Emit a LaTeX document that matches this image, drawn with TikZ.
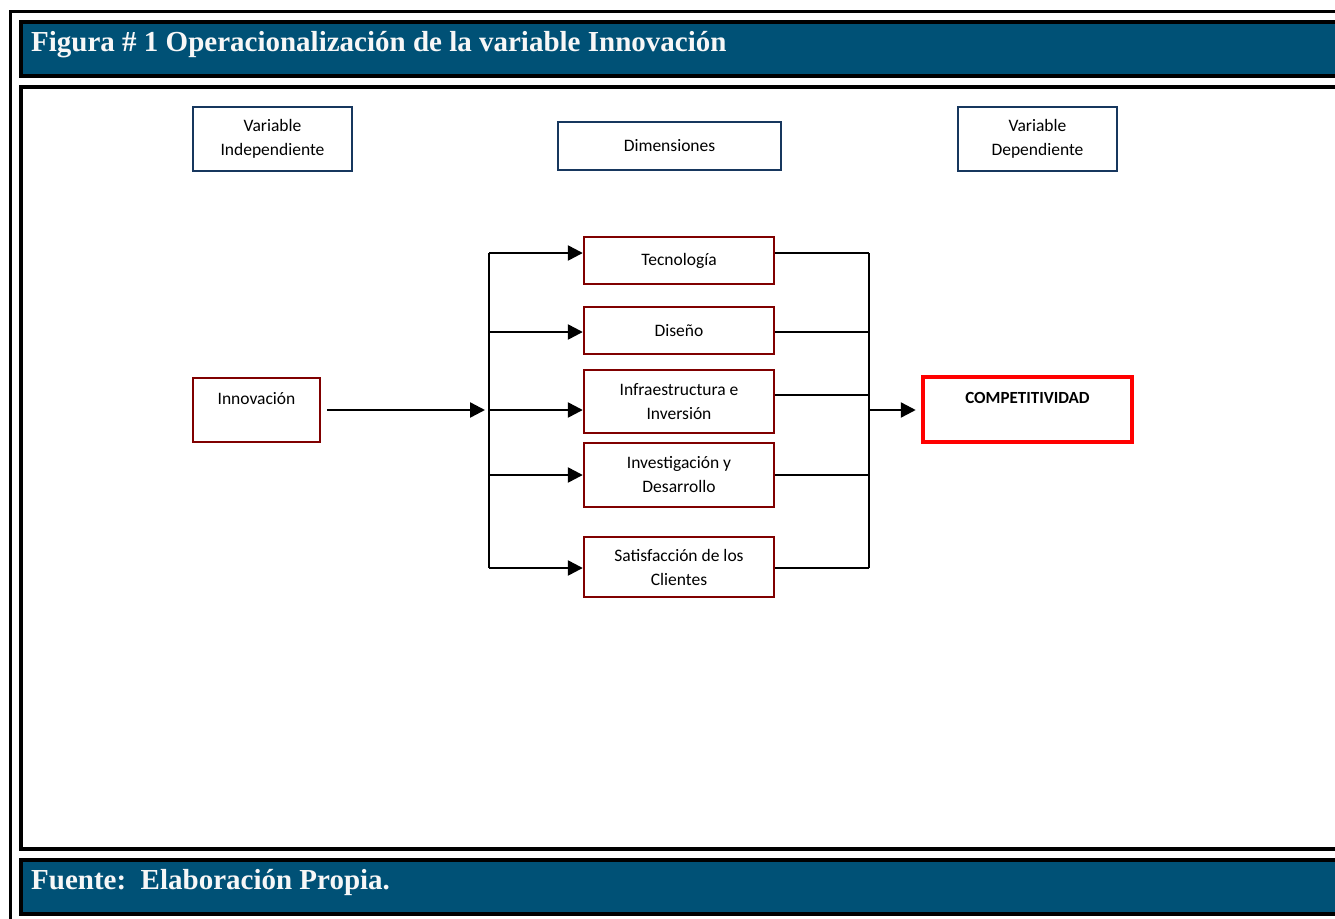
\documentclass[tikz,border=0pt]{standalone}
\usepackage{fontspec}
\setmainfont{Liberation Serif}
\newfontfamily\calfont{Carlito}
\usetikzlibrary{arrows.meta}
\definecolor{hdrblue}{RGB}{0,81,118}
\definecolor{navy}{RGB}{23,55,94}
\definecolor{dkred}{RGB}{128,0,0}
\definecolor{brred}{RGB}{255,0,0}
\tikzset{
  bluebox/.style={draw=navy, line width=2.6pt, inner sep=0pt, align=center,
    font=\calfont\fontsize{17.5}{24}\selectfont},
  redbox/.style={draw=dkred, line width=2.4pt, inner sep=0pt, align=center,
    minimum width=190pt, font=\calfont\fontsize{17.5}{24}\selectfont},
  txt/.style={inner sep=0pt, font=\calfont\fontsize{17.5}{24}\selectfont},
  conn/.style={line width=2.4pt},
  arr/.style={line width=2.4pt, -{Triangle[length=15pt,width=15pt]}},
  band/.style={fill=hdrblue, draw=black, line width=3.5pt},
  frame/.style={draw=black, line width=3.5pt},
  bandtext/.style={inner sep=0pt, anchor=base west, text=white!97!black,
    font=\fontsize{29}{34}\selectfont\bfseries}
}
\begin{document}
\begin{tikzpicture}[x=1pt,y=-1pt]
\useasboundingbox (0,0) rectangle (1335,918);
\clip (0,0) rectangle (1335,918);
% frames
\draw[line width=3pt] (10.5,930) -- (10.5,11) -- (1350,11);
\draw[band] (21,22) rectangle (1350,76);
\node[bandtext] (title) at (31,51) {Figura \# 1 Operacionalización de la variable Innovación};
\draw[frame] (21,87) rectangle (1350,849);
\draw[band] (21,860) rectangle (1350,914);
\node[bandtext] (fuente) at (31,889) {Fuente:\ \ Elaboración Propia.};
% header boxes
\node[bluebox, minimum width=159pt, minimum height=64pt] (vi) at (272.5,139) {Variable\\Independiente};
\node[bluebox, minimum width=223pt, minimum height=48pt] (dim) at (669.5,146) {Dimensiones};
\node[bluebox, minimum width=159pt, minimum height=64pt] (vd) at (1037.5,139) {Variable\\Dependiente};
% left box
\node[redbox, minimum width=127pt, minimum height=64pt] (inn) at (256.5,410) {};
\node[txt] (innt) at (256.5,399) {Innovación};
% dimension boxes
\node[redbox, minimum height=47pt] (tec) at (679,260.5) {Tecnología};
\node[redbox, minimum height=47pt] (dis) at (679,330.5) {Diseño};
\node[redbox, minimum height=63pt] (inf) at (679,401.5) {Infraestructura e\\Inversión};
\node[redbox, minimum height=64pt] (inv) at (679,475) {Investigación y\\Desarrollo};
\node[redbox, minimum height=60pt] (sat) at (679,567) {Satisfacción de los\\Clientes};
% result box
\node[draw=brred, line width=4.5pt, minimum width=209pt, minimum height=65pt, inner sep=0pt] (comp) at (1027.5,409.5) {};
\node[txt, font=\calfont\bfseries\fontsize{17}{20}\selectfont] (compt) at (1027.5,398) {COMPETITIVIDAD};
% bus coordinates
\coordinate (l1) at (489,253);
\coordinate (l3) at (489,410);
\coordinate (l5) at (489,568);
\coordinate (r1) at (869,253);
\coordinate (r3) at (869,410);
\coordinate (r5) at (869,568);
% connectors
\draw[arr, shorten >=4pt] ([xshift=6pt]inn.east) -- (l3);
\draw[conn] (l1) -- (l5);
\draw[arr] (l1) -- (l1 -| tec.west);
\draw[arr] (489,332) -- (dis.west |- 0,332);
\draw[arr] (l3) -- (l3 -| inf.west);
\draw[arr] (l1 |- inv.west) -- (inv.west);
\draw[arr] (l5) -- (l5 -| sat.west);
\draw[conn] (tec.east |- r1) -- (r1);
\draw[conn] (dis.east |- 0,332) -- (869,332);
\draw[conn] (inf.east |- 0,395) -- (869,395);
\draw[conn] (inv.east) -- (r1 |- inv.east);
\draw[conn] (sat.east |- r5) -- (r5);
\draw[conn] (r1) -- (r5);
\draw[arr, shorten >=5pt] (r3) -- (r3 -| comp.west);
\end{tikzpicture}
\end{document}
